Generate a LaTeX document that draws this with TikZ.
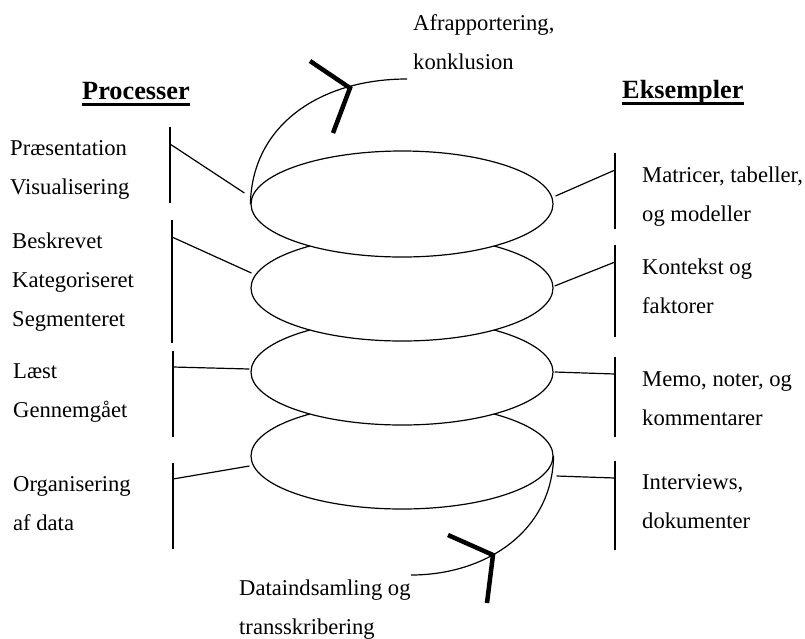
\documentclass[tikz,border=0pt]{standalone}
\usepackage{fontspec}
\setmainfont{Liberation Serif}
\usetikzlibrary{shapes.geometric}
\tikzset{layer/.style={ellipse, draw, fill=white, line width=1.2pt,
		minimum width=302pt, minimum height=106pt, inner sep=0pt},
	link/.style={line width=1.2pt},
	barb/.style={line width=4.5pt, line join=miter},
	% placed at the baseline of the last line
	lbl/.style={inner sep=0pt, align=left, anchor=base west,
		font=\fontsize{22.6}{39}\selectfont},
	head/.style={inner sep=0pt, anchor=base west,
		font=\fontsize{26.3}{30}\selectfont\bfseries},
	uline/.style={line width=3pt}}

\begin{document}
\begin{tikzpicture}[x=1pt,y=-1pt]
	\useasboundingbox (0,0) rectangle (805,638);
	% the four layers, lowest first so the upper one covers it
	\node[layer] (e4) at (402,456) {};
	\node[layer] (e3) at (402,372) {};
	\node[layer] (e2) at (402,288) {};
	\node[layer] (e1) at (402,204) {};
	
	% headings
	\node[head] (hp) at (82,99) {Processer};
	\node[head] (he) at (622,98) {Eksempler};
	\draw[uline] ([shift={(0,5)}]hp.base west) -- ([shift={(0,5)}]hp.base east);
	\draw[uline] ([shift={(0,5)}]he.base west) -- ([shift={(0,5)}]he.base east);
	
	% processer
	\node[lbl] (p1) at (10,194) {Præsentation\\Visualisering};
	\node[lbl] (p2) at (12,326) {Beskrevet\\Kategoriseret\\Segmenteret};
	\node[lbl] (p3) at (13,417) {Læst\\Gennemgået};
	\node[lbl] (p4) at (13,530) {Organisering\\af data};
	\draw[link] (170,127) -- (170,203);
	\draw[link] (172,220) -- (172,343);
	\draw[link] (173,351) -- (173,437);
	\draw[link] (173,463) -- (173,549);
	\coordinate (pl1) at (170,144);
	\coordinate (pl2) at (172,237);
	\coordinate (pl3) at (173,367);
	\coordinate (pl4) at (173,479);
	\draw[link] (pl1) -- ([shift={(-6,-11)}]e1.west);
	\draw[link] (pl2) -- ([shift={(1,-15)}]e2.west);
	\draw[link] (pl3) -- ([shift={(-1,-3)}]e3.west);
	\draw[link] (pl4) -- ([shift={(-1,10)}]e4.west);
	
	% eksempler
	\node[lbl] (x1) at (642,221) {Matricer, tabeller,\\og modeller};
	\node[lbl] (x2) at (642,313) {Kontekst og\\faktorer};
	\node[lbl] (x3) at (642,425) {Memo, noter, og\\kommentarer};
	\node[lbl] (x4) at (642,528) {Interviews,\\dokumenter};
	\draw[link] (615,153) -- (615,229);
	\draw[link] (615,245) -- (615,337);
	\draw[link] (615,357) -- (615,437);
	\draw[link] (615,461) -- (615,550);
	\coordinate (xl1) at (615,170);
	\coordinate (xl2) at (615,262);
	\coordinate (xl3) at (615,374);
	\coordinate (xl4) at (615,478);
	\draw[link] ([shift={(2,-8)}]e1.east) -- (xl1);
	\draw[link] ([shift={(1,-2)}]e2.east) -- (xl2);
	\draw[link] ([shift={(1,0)}]e3.east) -- (xl3);
	\draw[link] ([shift={(3,20)}]e4.east) -- (xl4);
	
	% in and out
	\node[lbl] (top) at (413,69) {Afrapportering,\\konklusion};
	\node[lbl] (bot) at (239,634) {Dataindsamling og\\transskribering};
	\coordinate (topend) at (407,79);
	\coordinate (botend) at (411,575);
	\draw[link] (e1.west) .. controls (252,125) and (320,79) .. (topend);
	\draw[link] (botend) .. controls (484,575) and (552,533) .. (e4.east);
	\coordinate (toptip) at (350,88);
	\coordinate (bottip) at (493,555);
	\draw[barb] (310,61) -- (toptip) -- (333,133);
	\draw[barb] (448,535) -- (bottip) -- (487,603);
\end{tikzpicture}
\end{document}
